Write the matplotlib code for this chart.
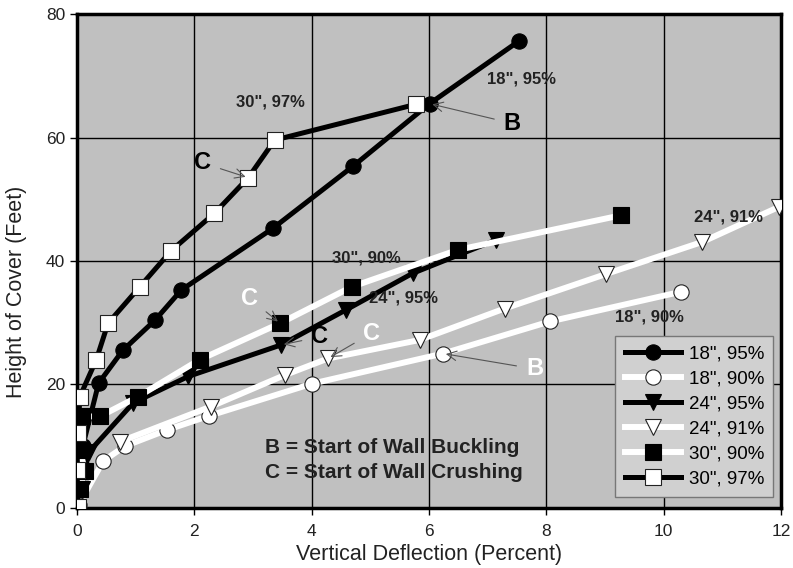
import matplotlib
matplotlib.use('Agg')
import matplotlib.pyplot as plt

plt.rcParams['font.family'] = ['Liberation Sans', 'DejaVu Sans']

# series data (deflection %, height of cover ft)
x_18_95 = [0.05, 0.1, 0.37, 0.78, 1.33, 1.78, 3.34, 4.71, 6.01, 7.54]
y_18_95 = [3.0, 10.0, 20.2, 25.5, 30.4, 35.3, 45.3, 55.4, 65.5, 75.7]

x_18_90 = [0.03, 0.45, 0.82, 1.53, 2.25, 4.0, 6.24, 8.06, 10.29]
y_18_90 = [0.5, 7.6, 10.0, 12.6, 14.9, 20.1, 25.0, 30.2, 35.0]

x_24_95 = [0.08, 0.2, 0.96, 1.9, 3.48, 4.59, 5.72, 7.14]
y_24_95 = [3.0, 9.0, 17.0, 21.3, 26.4, 32.1, 38.0, 43.4]

x_24_91 = [0.73, 2.28, 3.54, 4.28, 5.84, 7.29, 9.02, 10.66, 11.97]
y_24_91 = [10.7, 16.4, 21.5, 24.2, 27.2, 32.3, 37.9, 43.1, 48.8]

x_30_90 = [0.05, 0.14, 0.05, 0.08, 0.39, 1.04, 2.09, 3.46, 4.68, 6.49, 9.27]
y_30_90 = [3.0, 5.9, 9.4, 14.8, 14.8, 18.0, 24.0, 29.9, 35.8, 41.8, 47.4]

x_30_97 = [0.02, 0.0, 0.02, 0.05, 0.33, 0.53, 1.07, 1.61, 2.34, 2.92, 3.37, 5.78]
y_30_97 = [0.2, 6.2, 12.1, 18.0, 24.0, 29.9, 35.8, 41.7, 47.7, 53.5, 59.6, 65.4]

x_ticks = [0, 2, 4, 6, 8, 10, 12]
y_ticks = [0, 20, 40, 60, 80]

fig = plt.figure(figsize=(7.93, 5.68), dpi=100)
ax = fig.add_axes([0.097, 0.106, 0.888, 0.869])
ax.set_facecolor('#c0c0c0')

ms = 11
# (x, y, line colour, marker, marker face, label)
series = [
    (x_18_95, y_18_95, 'black', 'o', 'black', '18", 95%'),
    (x_18_90, y_18_90, 'white', 'o', 'white', '18", 90%'),
    (x_24_95, y_24_95, 'black', 'v', 'black', '24", 95%'),
    (x_24_91, y_24_91, 'white', 'v', 'white', '24", 91%'),
    (x_30_90, y_30_90, 'white', 's', 'black', '30", 90%'),
    (x_30_97, y_30_97, 'black', 's', 'white', '30", 97%'),
]
for xs, ys, lc, mk, mf, lab in series:
    lw = 3.6 if lc == 'black' else 4.3
    ax.plot(xs, ys, color=lc, lw=lw, marker=mk, markersize=ms,
            markerfacecolor=mf, markeredgecolor='#222222' if mf == 'white' else 'black',
            markeredgewidth=0.8, label=lab, zorder=3)

ax.set_xlim(0, 12)
ax.set_ylim(0, 80)
ax.set_xticks(x_ticks)
ax.set_yticks(y_ticks)
ax.grid(True, color='black', lw=1.0)
ax.set_axisbelow(True)
for s in ax.spines.values():
    s.set_linewidth(2.5)
    s.set_color('black')
ax.tick_params(axis='both', labelsize=12.5, length=5, width=1, color='black',
               labelcolor='#222222')
ax.tick_params(axis='x', pad=7)
ax.set_xlabel('Vertical Deflection (Percent)', fontsize=15.5, color='#222222')
ax.xaxis.set_label_coords(0.5, -0.073)
ax.set_ylabel('Height of Cover (Feet)', fontsize=15.5, color='#222222')
ax.yaxis.set_label_coords(-0.071, 0.437)

# curve labels
bold = dict(fontsize=12, fontweight='bold', color='#222222', ha='center', va='center')
ax.text(3.30, 65.7, '30", 97%', **bold)
ax.text(7.57, 69.5, '18", 95%', **bold)
ax.text(4.94, 40.5, '30", 90%', **bold)
ax.text(5.57, 34.0, '24", 95%', **bold)
ax.text(9.75, 30.9, '18", 90%', **bold)
ax.text(11.1, 47.1, '24", 91%', **bold)

ax.text(3.2, 9.7, 'B = Start of Wall Buckling', fontsize=15, fontweight='bold',
        color='#222222', va='center')
ax.text(3.2, 5.8, 'C = Start of Wall Crushing', fontsize=15, fontweight='bold',
        color='#222222', va='center')

# B / C markers with arrows
arrow = dict(arrowstyle='->', color='#555555', lw=0.8, shrinkA=5, shrinkB=2)
marks = [
    ('B', 7.42, 62.3, 6.01, 65.5, 'black'),
    ('C', 2.14, 55.9, 2.92, 53.5, 'black'),
    ('C', 2.94, 34.0, 3.46, 29.9, 'white'),
    ('C', 4.14, 27.7, 3.48, 26.4, 'black'),
    ('C', 5.02, 28.3, 4.28, 24.2, 'white'),
    ('B', 7.80, 22.5, 6.24, 25.0, 'white'),
]
for t, tx, ty, px, py, c in marks:
    ax.annotate(t, xy=(px, py), xytext=(tx, ty), fontsize=17, fontweight='bold',
                color=c, ha='center', va='center', arrowprops=arrow, zorder=5)

leg = ax.legend(loc='lower right', bbox_to_anchor=(0.989, 0.022), fontsize=13.5,
                frameon=True, fancybox=False, facecolor='#d0d0d0', edgecolor='#777777',
                handlelength=3.0, labelspacing=0.42, borderpad=0.5, handletextpad=0.4,
                borderaxespad=0)
leg.get_frame().set_linewidth(1.0)
leg.get_frame().set_alpha(1)

fig.savefig('out.png', dpi=100, facecolor='white')
